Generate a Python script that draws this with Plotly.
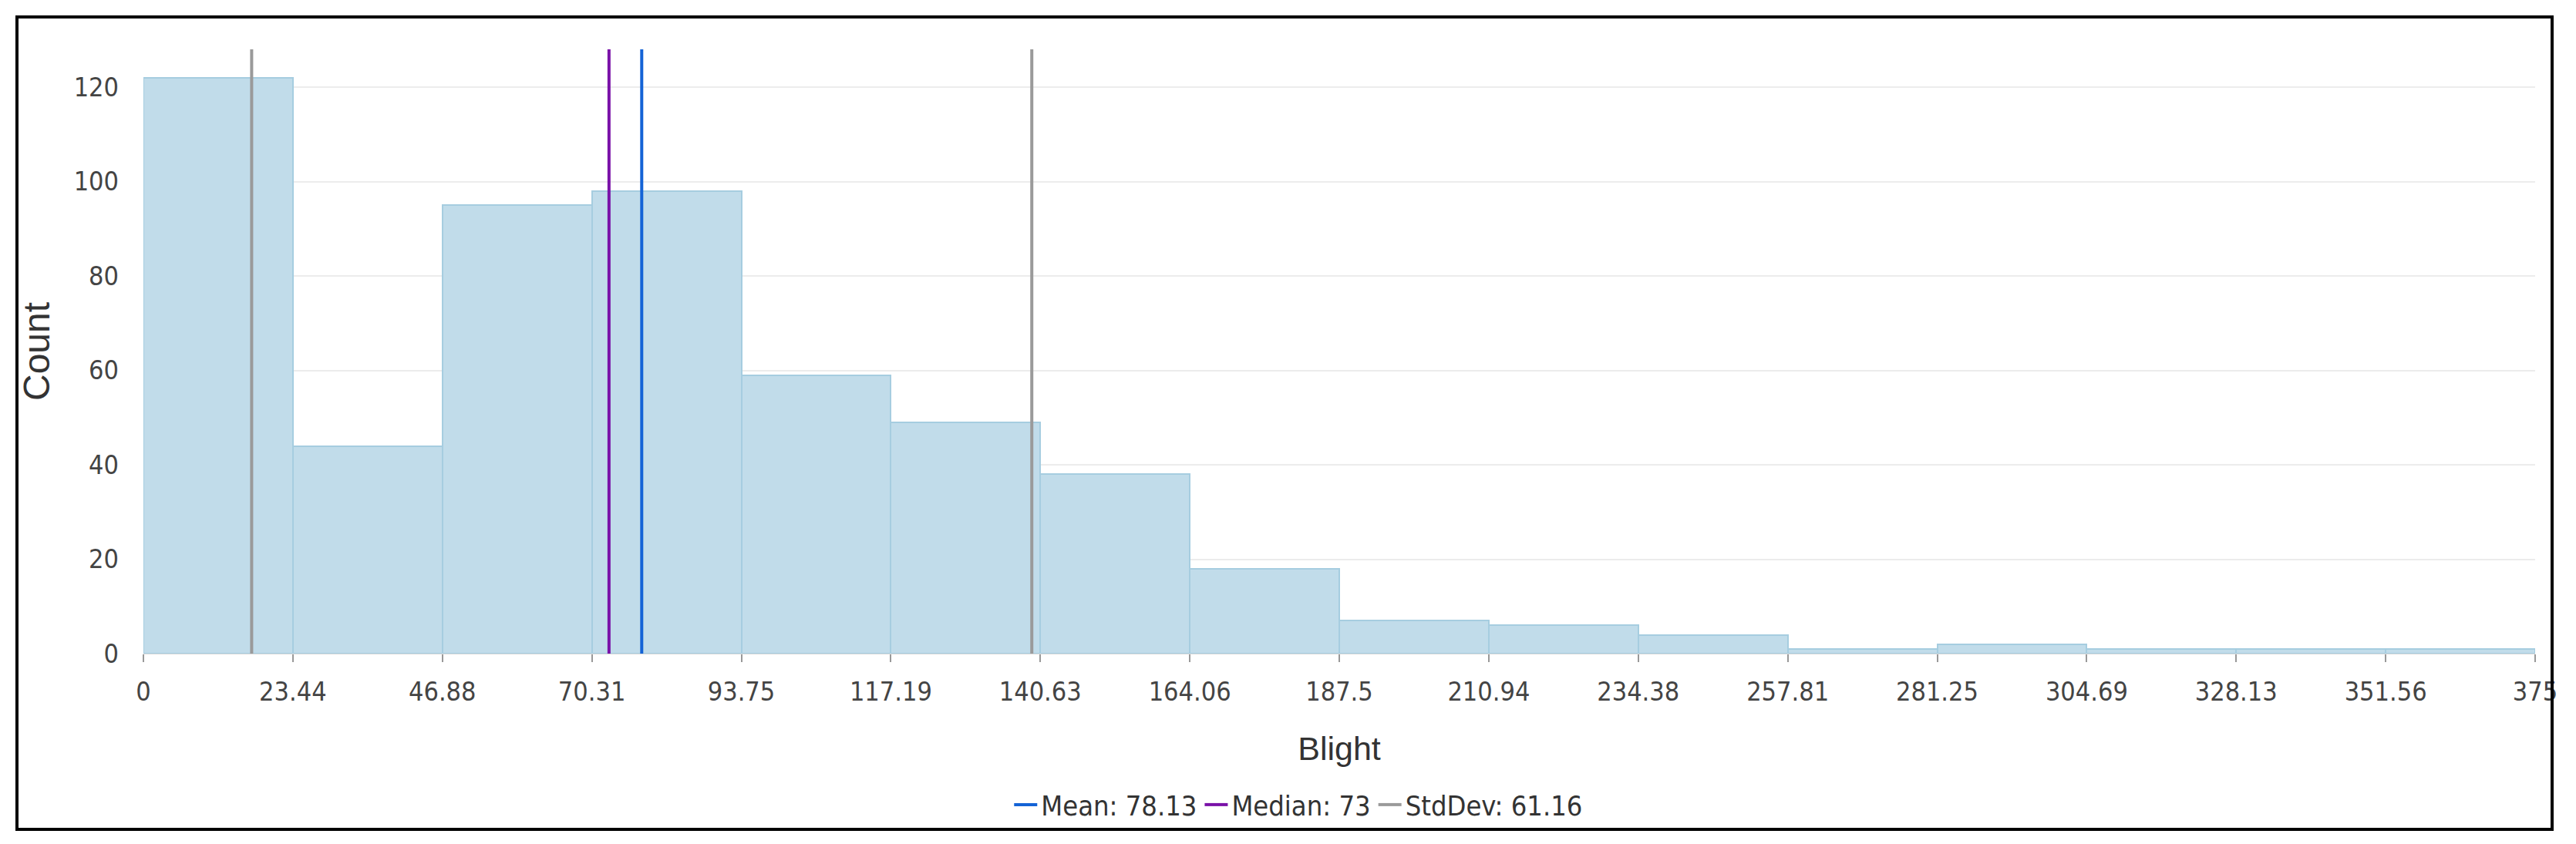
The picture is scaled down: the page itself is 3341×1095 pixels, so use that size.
import plotly.graph_objects as go

# histogram of Blight
bin_edges = [0, 23.4375, 46.875, 70.3125, 93.75, 117.1875, 140.625, 164.0625, 187.5,
             210.9375, 234.375, 257.8125, 281.25, 304.6875, 328.125, 351.5625, 375]
tick_labels = ["0", "23.44", "46.88", "70.31", "93.75", "117.19", "140.63", "164.06", "187.5",
               "210.94", "234.38", "257.81", "281.25", "304.69", "328.13", "351.56", "375"]
counts = [122, 44, 95, 98, 59, 49, 38, 18, 7, 6, 4, 1, 2, 1, 1, 1]

mean_val = 78.13
median_val = 73
std_val = 61.16
y_top = 128

centers = [(a + b) / 2 for a, b in zip(bin_edges[:-1], bin_edges[1:])]
widths = [b - a for a, b in zip(bin_edges[:-1], bin_edges[1:])]

narrow = "Liberation Sans Narrow, DejaVu Sans Condensed, sans-serif"
regular = "Liberation Sans, Arial, sans-serif"

fig = go.Figure()
fig.add_trace(go.Bar(x=centers, y=counts, width=widths,
                     marker=dict(color="#c1dcea", line=dict(color="#a6cde0", width=2)),
                     showlegend=False))

fig.add_trace(go.Scatter(x=[mean_val, mean_val], y=[0, y_top], mode="lines",
                         line=dict(color="#1463d6", width=4),
                         name=f"Mean: {mean_val}"))
fig.add_trace(go.Scatter(x=[median_val, median_val], y=[0, y_top], mode="lines",
                         line=dict(color="#7a12a8", width=4),
                         name=f"Median: {median_val}"))
lo, hi = mean_val - std_val, mean_val + std_val
fig.add_trace(go.Scatter(x=[lo, lo, None, hi, hi], y=[0, y_top, None, 0, y_top], mode="lines",
                         line=dict(color="#9a9a9a", width=4),
                         name=f"StdDev: {std_val}"))

W, H = 3341, 1095
ml, mr, mt, mb = 186, 53, 64, 247
pw, ph = W - ml - mr, H - mt - mb

def px_x(p):
    return (p - ml) / pw

def px_y(p):
    return (H - mb - p) / ph

# outer frame
fig.add_shape(type="rect", xref="paper", yref="paper",
              x0=px_x(22), x1=px_x(3310), y0=px_y(1076), y1=px_y(22),
              line=dict(color="black", width=4), fillcolor="rgba(0,0,0,0)", layer="above")

# y axis title placed by hand (axis title is clamped inside the margin)
fig.add_annotation(text="Count", xref="paper", yref="paper", x=px_x(47), y=0.5,
                   xanchor="center", yanchor="middle", textangle=-90, showarrow=False,
                   font=dict(family=regular, size=48, color="#333"))

fig.update_layout(
    width=W, height=H,
    margin=dict(l=ml, r=mr, t=mt, b=mb),
    paper_bgcolor="white", plot_bgcolor="white",
    bargap=0,
    showlegend=True,
    legend=dict(orientation="h", x=0.483, xanchor="center", y=px_y(1044), yanchor="middle",
                font=dict(family=narrow, size=36, color="#333"), itemwidth=30,
                bgcolor="rgba(0,0,0,0)"),
)
fig.update_xaxes(range=[bin_edges[0], bin_edges[-1]], tickmode="array",
                 tickvals=bin_edges, ticktext=tick_labels,
                 ticks="outside", ticklen=10, tickwidth=2, tickcolor="#999",
                 showline=True, linecolor="#d9d9d9", linewidth=1,
                 showgrid=False, zeroline=False, ticklabelstandoff=9,
                 tickfont=dict(family=narrow, size=34, color="#444"),
                 title=dict(text="Blight", font=dict(family=regular, size=43, color="#333"),
                            standoff=40))
fig.update_yaxes(range=[0, y_top], tickvals=[0, 20, 40, 60, 80, 100, 120],
                 showgrid=True, gridcolor="#ececec", gridwidth=2, zeroline=False,
                 ticks="", ticklabelstandoff=31,
                 tickfont=dict(family=narrow, size=34, color="#444"))

fig.write_html("out.html", config={"displayModeBar": False},
               post_script="document.body.style.margin='0';")
